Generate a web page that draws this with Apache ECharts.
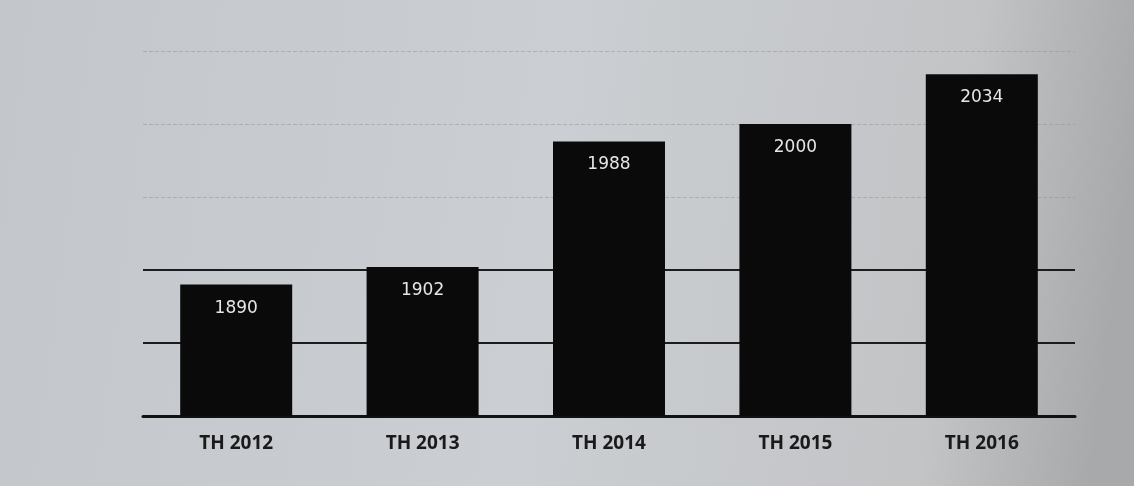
<!DOCTYPE html>
<html><head><meta charset="utf-8">
<script src="https://cdn.jsdelivr.net/npm/echarts@6/dist/echarts.min.js"></script>
<style>html,body{margin:0;padding:0;}#c{width:1134px;height:486px;}</style>
</head><body><div id="c"></div>
<script>
var categories = ['TH 2012', 'TH 2013', 'TH 2014', 'TH 2015', 'TH 2016'];
var values = [1890, 1902, 1988, 2000, 2034];
var yMin = 1800, yMax = 2050, yStep = 50;
var darkLines = [1850, 1900];
var faintLines = [1950, 2000, 2050];

var chart = echarts.init(document.getElementById('c'));
chart.setOption({
  backgroundColor: {
    type: 'linear', x: 0, y: 0, x2: 1, y2: 0.3,
    colorStops: [
      {offset: 0, color: '#c3c6ca'},
      {offset: 0.5, color: '#cbced2'},
      {offset: 0.85, color: '#c2c4c6'},
      {offset: 1, color: '#a8a9aa'}
    ]
  },
  animation: false,
  grid: {left: 143, right: 59, top: 51, bottom: 70},
  xAxis: {
    type: 'category', data: categories,
    axisLine: {show: true, lineStyle: {color: '#111', width: 3}},
    axisTick: {show: false},
    axisLabel: {color: '#1a1a1a', fontSize: 19, fontWeight: 'bold', margin: 18,
      fontFamily: 'Open Sans'}
  },
  yAxis: {
    type: 'value', min: yMin, max: yMax, interval: yStep,
    axisLabel: {show: false}, axisLine: {show: false}, axisTick: {show: false},
    splitLine: {show: false}
  },
  series: [{
    type: 'bar', data: values, barWidth: 112,
    itemStyle: {color: '#0a0a0a'},
    label: {show: true, position: 'insideTop', distance: 15, color: '#e6e6e6',
      fontSize: 17, fontFamily: 'DejaVu Sans', fontWeight: 'normal'},
    markLine: {
      silent: true, symbol: 'none', label: {show: false}, z: 1,
      data: darkLines.map(function (v) { return {yAxis: v, lineStyle: {color: '#1c1c1c', width: 2, type: 'solid'}}; })
        .concat(faintLines.map(function (v) { return {yAxis: v, lineStyle: {color: '#8f9194', width: 1, type: 'dashed', opacity: 0.5}}; }))
    },
    z: 3
  }]
});
</script></body></html>
